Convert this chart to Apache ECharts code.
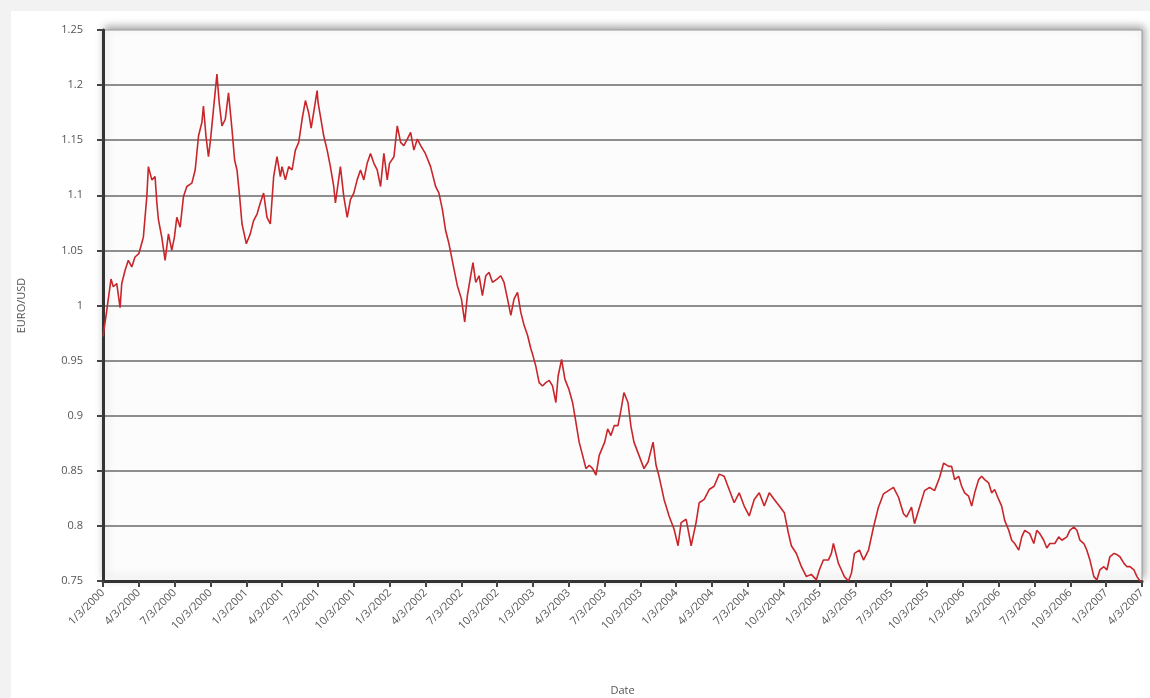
<!DOCTYPE html>
<html>
<head>
<meta charset="utf-8">
<script src="https://cdn.jsdelivr.net/npm/echarts@6/dist/echarts.min.js"></script>
<style>
  html, body { margin: 0; padding: 0; background: #f2f2f2; }
  #chart { position: absolute; left: 11px; top: 11px; width: 1139px; height: 687px; background: #ffffff; }
</style>
</head>
<body>
<div id="chart"></div>
<script>
// quarter tick labels along the date axis (one every 3 months)
const quarterLabels = [
  '1/3/2000', '4/3/2000', '7/3/2000', '10/3/2000',
  '1/3/2001', '4/3/2001', '7/3/2001', '10/3/2001',
  '1/3/2002', '4/3/2002', '7/3/2002', '10/3/2002',
  '1/3/2003', '4/3/2003', '7/3/2003', '10/3/2003',
  '1/3/2004', '4/3/2004', '7/3/2004', '10/3/2004',
  '1/3/2005', '4/3/2005', '7/3/2005', '10/3/2005',
  '1/3/2006', '4/3/2006', '7/3/2006', '10/3/2006',
  '1/3/2007', '4/3/2007'
];

// sample times, in months since 1/3/2000
const months = [
  0, 0.31, 0.67, 0.86, 1.15, 1.43, 1.57, 1.85, 2.12, 2.41,
  2.68, 3.0, 3.38, 3.67, 3.8, 4.09, 4.36, 4.51, 4.64, 4.92,
  5.2, 5.34, 5.48, 5.76, 5.98, 6.18, 6.46, 6.74, 7.02, 7.44,
  7.72, 8.0, 8.28, 8.41, 8.62, 8.83, 9.0, 9.25, 9.54, 9.73,
  9.96, 10.24, 10.51, 10.8, 11.02, 11.22, 11.44, 11.64, 12.0, 12.33,
  12.61, 12.9, 13.17, 13.45, 13.73, 14.01, 14.29, 14.57, 14.85, 14.99,
  15.27, 15.55, 15.83, 16.11, 16.39, 16.67, 16.95, 17.22, 17.43, 17.64,
  17.93, 18.01, 18.2, 18.48, 18.77, 19.04, 19.32, 19.46, 19.88, 20.16,
  20.45, 20.72, 21.0, 21.28, 21.56, 21.84, 22.12, 22.4, 22.68, 22.96,
  23.24, 23.52, 23.8, 23.99, 24.36, 24.64, 24.92, 25.19, 25.48, 25.76,
  26.03, 26.32, 26.6, 26.99, 27.43, 27.85, 28.13, 28.42, 28.69, 28.97,
  29.39, 29.67, 30.01, 30.29, 30.51, 30.79, 30.98, 31.21, 31.49, 31.77,
  32.05, 32.33, 32.61, 32.99, 33.31, 33.58, 33.87, 34.15, 34.42, 34.71,
  34.98, 35.26, 35.55, 35.82, 35.99, 36.24, 36.52, 36.8, 37.08, 37.36,
  37.64, 37.92, 38.11, 38.4, 38.68, 39.01, 39.32, 39.6, 39.87, 40.16,
  40.44, 40.72, 41.0, 41.28, 41.55, 42.01, 42.26, 42.53, 42.81, 43.12,
  43.37, 43.62, 43.96, 44.21, 44.46, 44.88, 45.3, 45.64, 46.06, 46.31,
  46.56, 46.98, 47.4, 47.82, 48.15, 48.41, 48.83, 49.25, 49.66, 49.92,
  50.34, 50.76, 51.17, 51.6, 52.01, 52.43, 52.85, 53.27, 53.69, 54.11,
  54.53, 54.95, 55.37, 55.79, 56.21, 56.63, 57.05, 57.38, 57.64, 58.06,
  58.48, 58.9, 59.31, 59.73, 59.98, 60.32, 60.74, 60.99, 61.16, 61.58,
  61.83, 62.08, 62.42, 62.67, 62.92, 63.34, 63.68, 64.1, 64.52, 64.93,
  65.35, 65.77, 66.19, 66.61, 67.03, 67.28, 67.7, 67.95, 68.37, 68.79,
  69.21, 69.63, 70.05, 70.39, 70.81, 71.06, 71.31, 71.65, 71.9, 72.15,
  72.48, 72.74, 72.99, 73.32, 73.57, 73.83, 74.16, 74.41, 74.66, 75.0,
  75.25, 75.5, 75.84, 76.09, 76.34, 76.68, 76.93, 77.18, 77.6, 77.94,
  78.19, 78.44, 78.77, 79.03, 79.28, 79.7, 80.03, 80.29, 80.71, 80.96,
  81.29, 81.55, 81.8, 82.13, 82.38, 82.64, 82.97, 83.22, 83.47, 83.81,
  84.06, 84.31, 84.65, 84.9, 85.15, 85.49, 85.74, 85.99, 86.33, 86.58,
  86.83, 87.0
];

// EURO/USD rate at each sample time
const rates = [
  0.972, 0.995, 1.024, 1.017, 1.02, 0.998, 1.02, 1.032, 1.041, 1.035,
  1.044, 1.047, 1.062, 1.099, 1.126, 1.114, 1.117, 1.093, 1.078, 1.062,
  1.041, 1.053, 1.065, 1.05, 1.062, 1.08, 1.071, 1.099, 1.108, 1.111,
  1.123, 1.154, 1.166, 1.181, 1.154, 1.135, 1.15, 1.178, 1.21, 1.184,
  1.163, 1.169, 1.193, 1.16, 1.132, 1.123, 1.099, 1.074, 1.056, 1.065,
  1.077, 1.083, 1.093, 1.102, 1.08, 1.074, 1.117, 1.135, 1.117, 1.126,
  1.114, 1.126, 1.123, 1.141, 1.148, 1.169, 1.186, 1.175, 1.161, 1.175,
  1.195, 1.184, 1.172, 1.154, 1.141, 1.126, 1.108, 1.093, 1.126, 1.099,
  1.08, 1.096, 1.102, 1.114, 1.123, 1.114, 1.129, 1.138, 1.129, 1.123,
  1.108, 1.138, 1.114, 1.129, 1.135, 1.163, 1.148, 1.145, 1.151, 1.157,
  1.141, 1.151, 1.145, 1.138, 1.126, 1.108, 1.102, 1.087, 1.068, 1.056,
  1.033, 1.018, 1.006, 0.985, 1.009, 1.027, 1.039, 1.021, 1.027, 1.009,
  1.027, 1.03, 1.021, 1.024, 1.027, 1.021, 1.006, 0.991, 1.006, 1.012,
  0.994, 0.982, 0.973, 0.961, 0.955, 0.945, 0.93, 0.927, 0.93, 0.932,
  0.927, 0.912, 0.936, 0.951, 0.933, 0.924, 0.912, 0.894, 0.876, 0.864,
  0.852, 0.855, 0.852, 0.846, 0.864, 0.876, 0.888, 0.882, 0.891, 0.891,
  0.905, 0.921, 0.912, 0.89, 0.876, 0.864, 0.852, 0.858, 0.876, 0.855,
  0.845, 0.824, 0.809, 0.797, 0.782, 0.803, 0.806, 0.782, 0.803, 0.821,
  0.824, 0.833, 0.836, 0.847, 0.845, 0.833, 0.821, 0.83, 0.818, 0.809,
  0.824, 0.83, 0.818, 0.83, 0.824, 0.818, 0.812, 0.794, 0.782, 0.775,
  0.763, 0.754, 0.756, 0.751, 0.76, 0.769, 0.769, 0.775, 0.784, 0.766,
  0.76, 0.754, 0.75, 0.757, 0.775, 0.778, 0.769, 0.778, 0.799, 0.817,
  0.829, 0.832, 0.835, 0.826, 0.811, 0.808, 0.817, 0.802, 0.817, 0.832,
  0.835, 0.832, 0.844, 0.857, 0.854, 0.854, 0.842, 0.845, 0.836, 0.83,
  0.827, 0.818, 0.83, 0.842, 0.845, 0.842, 0.839, 0.83, 0.833, 0.824,
  0.818, 0.805, 0.796, 0.787, 0.784, 0.778, 0.79, 0.796, 0.793, 0.784,
  0.796, 0.793, 0.787, 0.78, 0.784, 0.784, 0.79, 0.787, 0.79, 0.796,
  0.799, 0.796, 0.787, 0.784, 0.778, 0.769, 0.754, 0.751, 0.76, 0.763,
  0.76, 0.772, 0.775, 0.774, 0.772, 0.766, 0.763, 0.763, 0.76, 0.754,
  0.75, 0.75
];

const chart = echarts.init(document.getElementById('chart'), null, { renderer: 'canvas' });
const labelFont = { color: '#555', fontSize: 11, fontFamily: 'Open Sans, Liberation Sans, sans-serif' };

chart.setOption({
  animation: false,
  backgroundColor: '#ffffff',
  grid: {
    left: 92, top: 19, right: 8, bottom: 117,
    outerBoundsMode: 'none',
    containLabel: false,
    show: true,
    backgroundColor: '#fcfcfc',
    borderColor: '#9a9a9a',
    borderWidth: 1,
    shadowColor: 'rgba(0,0,0,0.35)',
    shadowBlur: 8,
    shadowOffsetX: 2,
    shadowOffsetY: -3
  },
  xAxis: {
    type: 'value',
    min: 0,
    max: 87,
    interval: 3,
    name: 'Date',
    nameLocation: 'middle',
    nameGap: 104,
    nameTextStyle: labelFont,
    axisLine: { show: true, lineStyle: { color: '#333', width: 3 } },
    axisTick: { show: true, length: 6, lineStyle: { color: '#444', width: 2 } },
    axisLabel: {
      ...labelFont,
      rotate: 45,
      margin: 10,
      formatter: (v) => quarterLabels[Math.round(v / 3)] || ''
    },
    splitLine: { show: false }
  },
  yAxis: {
    type: 'value',
    min: 0.75,
    max: 1.25,
    interval: 0.05,
    name: 'EURO/USD',
    nameLocation: 'middle',
    nameGap: 76,
    nameRotate: 90,
    nameTextStyle: labelFont,
    axisLine: { show: true, lineStyle: { color: '#333', width: 3 } },
    axisTick: { show: true, length: 6, lineStyle: { color: '#444', width: 2 } },
    axisLabel: { ...labelFont, margin: 20 },
    splitLine: { show: true, showMinLine: false, showMaxLine: false, lineStyle: { color: '#6a6a6a', width: 1.5 } }
  },
  series: [{
    type: 'line',
    data: months.map((m, i) => [m, rates[i]]),
    showSymbol: false,
    clip: true,
    lineStyle: { color: '#c8262a', width: 1.6 }
  }]
});
</script>
</body>
</html>
